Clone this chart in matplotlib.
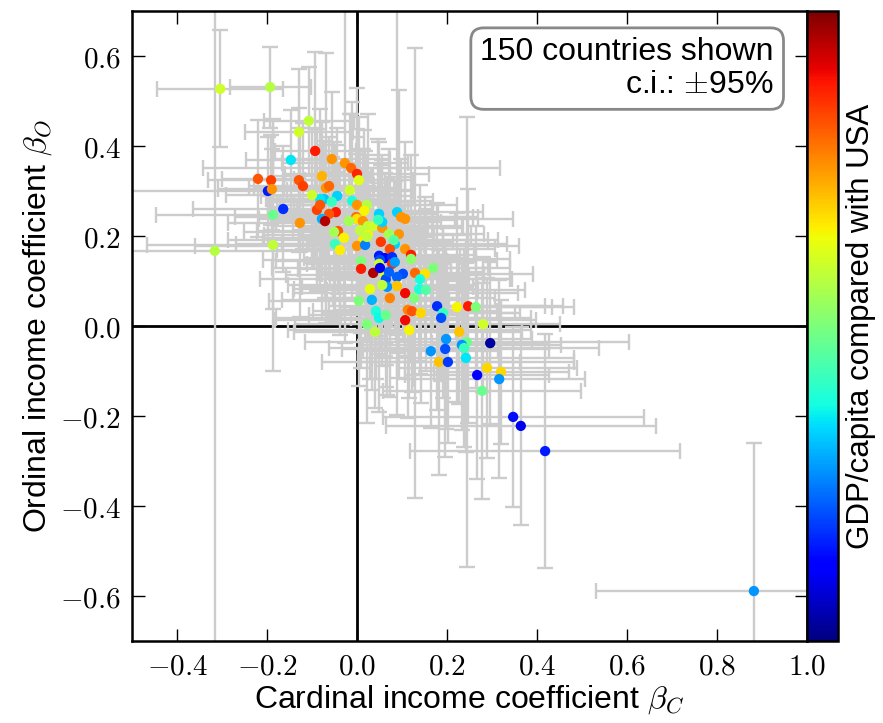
import matplotlib
matplotlib.use("Agg")
import matplotlib.pyplot as plt
from matplotlib.ticker import FuncFormatter
from matplotlib.cm import ScalarMappable
from matplotlib.colors import Normalize

plt.rcParams['font.family'] = ['Liberation Sans', 'DejaVu Sans']
plt.rcParams['mathtext.fontset'] = 'cm'

# Cardinal income coefficient (x)
beta_c = [-0.304, -0.193, -0.316, 0.882, 0.418, 0.347, 0.364, 0.280, 0.296, 0.289,
          0.320, 0.316, 0.278, -0.107, -0.129, -0.093, -0.056, -0.147, -0.220, -0.191,
          -0.078, -0.129, -0.120, -0.069, -0.062, -0.198, -0.189, -0.044, -0.073, -0.082,
          -0.056, -0.164, -0.089, -0.082, -0.047, -0.062, -0.187, -0.078, -0.071, -0.042,
          -0.187, -0.049, -0.027, -0.013, 0.000, 0.004, -0.011, 0.000, 0.022, 0.016,
          0.049, 0.089, 0.098, 0.107, -0.002, 0.000, -0.018, 0.013, 0.024, 0.036,
          0.056, 0.007, 0.018, 0.024, 0.093, 0.053, 0.013, -0.038, 0.000, 0.018,
          0.084, 0.073, 0.107, 0.120, 0.120, 0.049, 0.062, 0.078, 0.051, 0.078,
          0.049, 0.009, 0.009, 0.036, 0.062, 0.102, 0.129, 0.151, 0.169, 0.140,
          0.138, 0.064, 0.089, 0.067, 0.089, 0.056, 0.029, 0.107, 0.073, 0.127,
          0.004, 0.042, 0.049, 0.064, 0.107, 0.113, 0.122, 0.142, 0.116, 0.022,
          0.040, 0.178, 0.191, 0.187, 0.222, 0.247, 0.264, 0.227, 0.198, 0.196,
          0.164, 0.244, 0.233, 0.238, 0.182, 0.202, 0.242, 0.267, 0.056, 0.047,
          0.022, -0.051, -0.029, 0.071, 0.082, -0.016, -0.100, -0.127, 0.071, 0.051,
          0.084, 0.033, 0.153]

# Ordinal income coefficient (y)
beta_o = [0.527, 0.531, 0.167, -0.589, -0.278, -0.202, -0.222, 0.004, -0.038, -0.093,
          -0.102, -0.118, -0.144, 0.456, 0.431, 0.389, 0.371, 0.369, 0.327, 0.324,
          0.333, 0.324, 0.311, 0.307, 0.311, 0.300, 0.304, 0.289, 0.282, 0.282,
          0.276, 0.260, 0.258, 0.269, 0.253, 0.249, 0.247, 0.238, 0.233, 0.211,
          0.180, 0.182, 0.362, 0.351, 0.338, 0.324, 0.278, 0.269, 0.269, 0.256,
          0.249, 0.253, 0.242, 0.238, 0.242, 0.238, 0.233, 0.233, 0.222, 0.222,
          0.218, 0.213, 0.202, 0.202, 0.204, 0.187, 0.191, 0.169, 0.178, 0.180,
          0.182, 0.171, 0.171, 0.158, 0.149, 0.156, 0.151, 0.153, 0.147, 0.138,
          0.138, 0.144, 0.127, 0.118, 0.113, 0.116, 0.118, 0.116, 0.129, 0.104,
          0.082, 0.104, 0.109, 0.087, 0.089, 0.091, 0.082, 0.073, 0.062, 0.062,
          0.056, 0.033, 0.018, 0.024, 0.013, 0.036, 0.033, 0.029, -0.009, 0.004,
          -0.013, 0.044, 0.029, 0.018, 0.042, 0.044, 0.042, -0.013, -0.029, -0.051,
          -0.056, -0.036, -0.042, -0.049, -0.080, -0.080, -0.071, -0.109, 0.231, 0.236,
          0.198, 0.209, 0.196, 0.204, 0.191, 0.302, 0.291, 0.229, 0.120, 0.129,
          0.142, 0.058, 0.080]

# 95% c.i. half-widths
err_c = [0.14, 0.09, 0.25, 0.35, 0.30, 0.29, 0.30, 0.17, 0.13, 0.20,
         0.15, 0.19, 0.22, 0.10, 0.12, 0.09, 0.13, 0.10, 0.08, 0.14,
         0.11, 0.09, 0.12, 0.16, 0.10, 0.32, 0.12, 0.17, 0.13, 0.11,
         0.14, 0.20, 0.10, 0.09, 0.15, 0.12, 0.26, 0.14, 0.11, 0.18,
         0.28, 0.22, 0.14, 0.33, 0.16, 0.12, 0.18, 0.14, 0.20, 0.15,
         0.13, 0.19, 0.16, 0.24, 0.27, 0.12, 0.17, 0.14, 0.21, 0.13,
         0.18, 0.15, 0.12, 0.23, 0.19, 0.16, 0.30, 0.14, 0.36, 0.13,
         0.25, 0.17, 0.20, 0.14, 0.22, 0.12, 0.18, 0.15, 0.26, 0.13,
         0.16, 0.19, 0.14, 0.12, 0.22, 0.18, 0.15, 0.24, 0.17, 0.20,
         0.13, 0.28, 0.16, 0.19, 0.14, 0.21, 0.17, 0.25, 0.15, 0.18,
         0.20, 0.14, 0.23, 0.17, 0.29, 0.15, 0.19, 0.22, 0.27, 0.16,
         0.18, 0.24, 0.16, 0.20, 0.26, 0.21, 0.17, 0.14, 0.19, 0.23,
         0.15, 0.36, 0.22, 0.30, 0.18, 0.28, 0.24, 0.16, 0.13, 0.17,
         0.15, 0.20, 0.18, 0.12, 0.21, 0.14, 0.19, 0.16, 0.13, 0.24,
         0.18, 0.20, 0.22]

err_o = [0.13, 0.09, 0.95, 0.33, 0.26, 0.20, 0.22, 0.15, 0.18, 0.20,
         0.16, 0.22, 0.24, 0.12, 0.14, 0.22, 0.15, 0.11, 0.13, 0.10,
         0.12, 0.16, 0.14, 0.30, 0.11, 0.12, 0.09, 0.15, 0.13, 0.20,
         0.10, 0.14, 0.18, 0.12, 0.15, 0.13, 0.21, 0.11, 0.17, 0.14,
         0.28, 0.16, 0.40, 0.12, 0.19, 0.14, 0.22, 0.15, 0.11, 0.18,
         0.16, 0.45, 0.13, 0.17, 0.14, 0.20, 0.12, 0.16, 0.25, 0.13,
         0.15, 0.18, 0.14, 0.11, 0.32, 0.17, 0.13, 0.19, 0.15, 0.21,
         0.14, 0.18, 0.16, 0.12, 0.23, 0.15, 0.19, 0.13, 0.17, 0.14,
         0.20, 0.16, 0.22, 0.13, 0.18, 0.15, 0.50, 0.17, 0.14, 0.21,
         0.16, 0.19, 0.13, 0.24, 0.15, 0.18, 0.20, 0.14, 0.22, 0.17,
         0.19, 0.15, 0.21, 0.16, 0.13, 0.24, 0.18, 0.20, 0.15, 0.22,
         0.17, 0.23, 0.19, 0.14, 0.21, 0.26, 0.18, 0.16, 0.20, 0.24,
         0.17, 0.50, 0.19, 0.22, 0.25, 0.18, 0.21, 0.23, 0.15, 0.18,
         0.13, 0.20, 0.16, 0.19, 0.14, 0.17, 0.15, 0.21, 0.13, 0.18,
         0.16, 0.20, 0.18]

# GDP/capita relative to USA (colour)
gdp_ratio = [0.60, 0.57, 0.57, 0.27, 0.15, 0.14, 0.10, 0.60, 0.03, 0.68,
             0.68, 0.27, 0.48, 0.58, 0.60, 0.88, 0.75, 0.35, 0.82, 0.84,
             0.72, 0.82, 0.84, 0.75, 0.80, 0.15, 0.75, 0.33, 0.32, 0.35,
             0.42, 0.17, 0.84, 0.82, 0.88, 0.82, 0.48, 0.30, 0.95, 0.82,
             0.58, 0.42, 0.75, 0.80, 0.87, 0.62, 0.38, 0.75, 0.57, 0.65,
             0.33, 0.33, 0.75, 0.75, 0.80, 0.67, 0.55, 0.75, 0.58, 0.60,
             0.75, 0.58, 0.57, 0.65, 0.75, 0.85, 0.66, 0.66, 0.75, 0.25,
             0.33, 0.83, 0.75, 0.88, 0.52, 0.15, 0.13, 0.17, 0.20, 0.86,
             0.60, 0.50, 0.88, 0.96, 0.63, 0.20, 0.80, 0.67, 0.50, 0.38,
             0.38, 0.20, 0.22, 0.27, 0.70, 0.58, 0.63, 0.90, 0.77, 0.50,
             0.50, 0.38, 0.37, 0.48, 0.90, 0.77, 0.82, 0.68, 0.65, 0.50,
             0.58, 0.17, 0.42, 0.20, 0.65, 0.88, 0.50, 0.70, 0.27, 0.20,
             0.27, 0.48, 0.27, 0.42, 0.70, 0.18, 0.35, 0.12, 0.33, 0.42,
             0.58, 0.55, 0.65, 0.55, 0.45, 0.60, 0.60, 0.75, 0.22, 0.10,
             0.28, 0.30, 0.45]

xticks = [-0.4, -0.2, 0.0, 0.2, 0.4, 0.6, 0.8, 1.0]
yticks = [-0.6, -0.4, -0.2, 0.0, 0.2, 0.4, 0.6]

W, H = 883, 723
fig = plt.figure(figsize=(W / 100, H / 100), dpi=100)
ax = fig.add_axes([132 / W, 1 - 641 / H, (807 - 132) / W, (641 - 11) / H])
cax = fig.add_axes([807 / W, 1 - 641 / H, 31 / W, (641 - 11) / H])

ax.axhline(0, color='black', lw=2, zorder=1)
ax.axvline(0, color='black', lw=2, zorder=1)
ax.errorbar(beta_c, beta_o, xerr=err_c, yerr=err_o, fmt='none',
            ecolor='#cccccc', elinewidth=1.7, capsize=5.5, capthick=1.7, zorder=2)
ax.scatter(beta_c, beta_o, c=gdp_ratio, cmap='jet', vmin=0, vmax=1,
           s=55, edgecolors='none', zorder=3)

ax.set_xlim(-0.5, 1.0)
ax.set_ylim(-0.7, 0.7)
ax.set_xticks(xticks)
ax.set_yticks(yticks)
fmt = FuncFormatter(lambda v, p: r'$%.1f$' % v)
ax.xaxis.set_major_formatter(fmt)
ax.yaxis.set_major_formatter(fmt)
ax.tick_params(direction='in', length=9, width=1, top=True, right=True,
               labelsize=21, pad=8)
for sp in ax.spines.values():
    sp.set_linewidth(1.8)

ax.set_xlabel(r'Cardinal income coefficient $\beta_C$', fontsize=23, labelpad=2)
ax.set_ylabel(r'Ordinal income coefficient $\beta_O$', fontsize=23, labelpad=4)

ax.text(0.951, 0.958, '150 countries shown\nc.i.: $\\pm$95%', transform=ax.transAxes,
        ha='right', va='top', multialignment='right', fontsize=23, linespacing=1.1,
        bbox=dict(boxstyle='round,pad=0.3,rounding_size=0.4', fc='white',
                  ec='#888888', lw=2), zorder=5)

sm = ScalarMappable(norm=Normalize(0, 1), cmap='jet')
cb = fig.colorbar(sm, cax=cax)
cb.set_ticks([])
cb.outline.set_linewidth(1.8)
cb.set_label('GDP/capita compared with USA', fontsize=22.5, labelpad=6)

fig.savefig('out.png', dpi=100)
